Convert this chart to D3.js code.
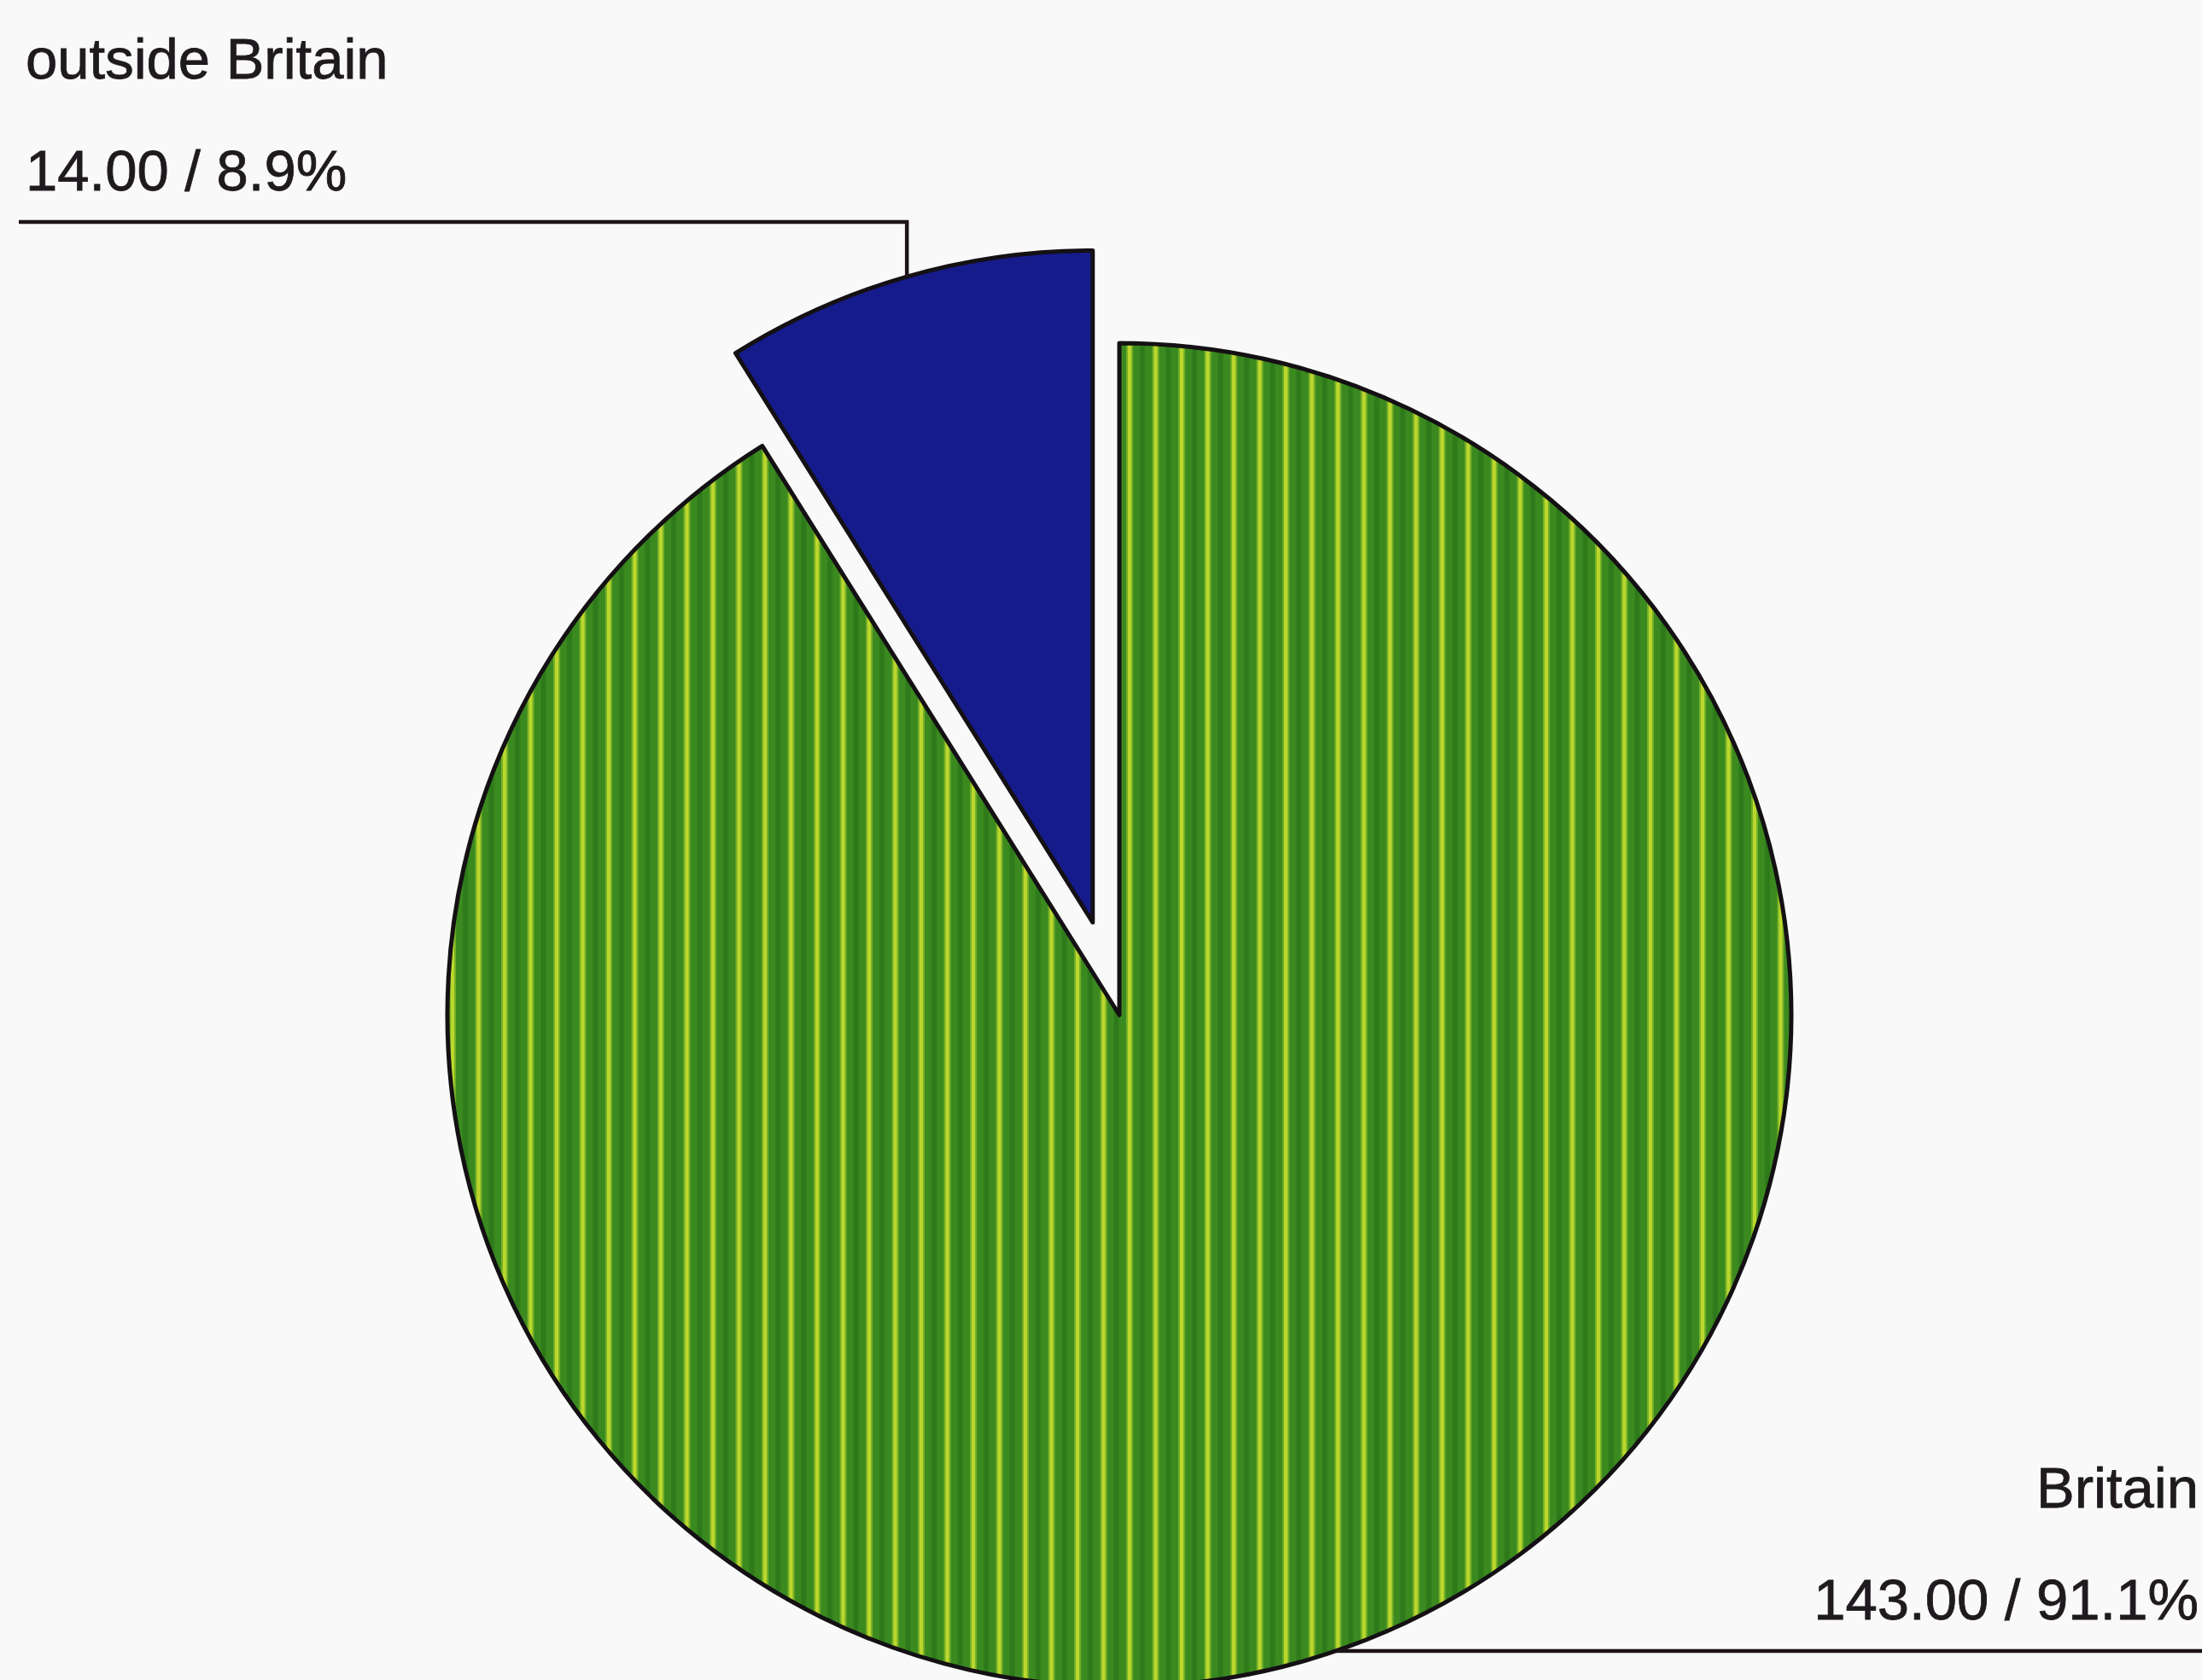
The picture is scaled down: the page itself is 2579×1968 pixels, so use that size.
<!DOCTYPE html>
<html>
<head>
<meta charset="utf-8">
<script src="https://cdn.jsdelivr.net/npm/d3@7"></script>
<style>
body { margin: 0; background: #f9f9fa; }
svg { display: block; }
text { font-family: "Liberation Sans", Arial, sans-serif; font-size: 67px; fill: #1e1a1e; stroke: #1e1a1e; stroke-width: 0.8px; }
</style>
</head>
<body>
<script>
const categories = ["outside Britain", "Britain"];
const values = [14, 143];
const exploded = [true, false];

const w = 2579;
const h = 1968;
const cx = 1311, cy = 1189, r = 787;
const explodeDist = 113;
const topLeaderY = 260;
const bottomLeaderY = 1934;

const total = d3.sum(values);
const fmtVal = d3.format(".2f");
const fmtPct = d3.format(".1f");
const labelText = i => fmtVal(values[i]) + " / " + fmtPct(values[i] / total * 100) + "%";

let svg = d3.select('body')
            .append('svg')
            .attr('width', w)
            .attr('height', h);

svg.append('rect').attr('width', w).attr('height', h).attr('fill', '#f9f9fa');

// vertical green / yellow stripe fill
let pat = svg.append('defs').append('pattern')
  .attr('id', 'stripes')
  .attr('patternUnits', 'userSpaceOnUse')
  .attr('x', 8)
  .attr('width', 30.5)
  .attr('height', 20);
pat.append('rect').attr('width', 30.5).attr('height', 20).attr('fill', '#3b8a20');
pat.append('rect').attr('x', 0).attr('width', 8).attr('height', 20).attr('fill', '#77b026');
pat.append('rect').attr('x', 2).attr('width', 4).attr('height', 20).attr('fill', '#bcd82e');
pat.append('rect').attr('x', 16).attr('width', 6).attr('height', 20).attr('fill', '#2e7a1b');

const colors = ["#161b8b", "url(#stripes)"];

const pie = d3.pie()
  .sort(null)
  .startAngle(-2 * Math.PI * values[0] / total)
  .endAngle(2 * Math.PI - 2 * Math.PI * values[0] / total);

const arc = d3.arc().innerRadius(0).outerRadius(r);
const arcs = pie(values);

arcs.forEach((a, i) => {
  a.mid = (a.startAngle + a.endAngle) / 2;
  const off = exploded[i] ? explodeDist : 0;
  a.ox = cx + off * Math.sin(a.mid);
  a.oy = cy - off * Math.cos(a.mid);
  // point on the outer edge where the leader starts
  a.px = a.ox + r * Math.sin(a.mid);
  a.py = a.oy - r * Math.cos(a.mid);
});

svg.selectAll('path.slice')
  .data(arcs)
  .enter()
  .append('path')
    .attr('class', 'slice')
    .attr('transform', d => `translate(${d.ox},${d.oy})`)
    .attr('d', arc)
    .attr('fill', (d, i) => colors[i])
    .attr('stroke', '#141014')
    .attr('stroke-width', 5)
    .attr('stroke-linejoin', 'round');

// leaders + labels
arcs.forEach((a, i) => {
  let pts, tx, anchor, ly;
  if (a.px < cx) {
    ly = topLeaderY;
    pts = [[a.px, a.py], [a.px, ly], [22, ly]];
    tx = 30;
    anchor = 'start';
  } else {
    ly = bottomLeaderY;
    // where the leader meets the pie edge
    const ex = a.ox + Math.sqrt(r * r - (ly - a.oy) * (ly - a.oy));
    pts = [[ex, ly], [w, ly]];
    tx = w - 4;
    anchor = 'end';
  }
  svg.append('path')
    .attr('d', d3.line()(pts))
    .attr('fill', 'none')
    .attr('stroke', '#1c1418')
    .attr('stroke-width', 4.5);
  svg.append('text')
    .attr('x', tx).attr('y', ly - 168)
    .attr('text-anchor', anchor)
    .text(categories[i]);
  svg.append('text')
    .attr('x', tx).attr('y', ly - 37)
    .attr('text-anchor', anchor)
    .text(labelText(i));
});
</script>
</body>
</html>
